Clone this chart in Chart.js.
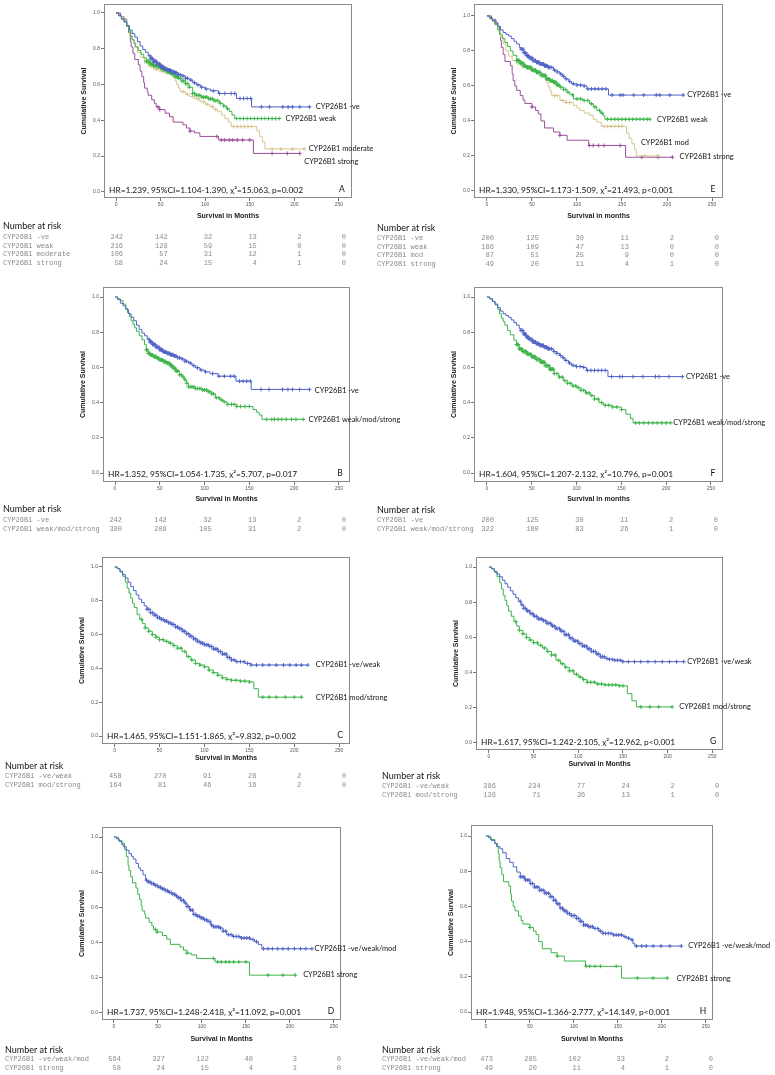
<!DOCTYPE html>
<html>
<head>
<meta charset="utf-8">
<script src="https://cdn.jsdelivr.net/npm/chart.js@4.4.0/dist/chart.umd.min.js"></script>
<style>
  body { margin: 0; background: #fff; width: 775px; height: 1075px; position: relative; overflow: hidden; }
  canvas { position: absolute; }
</style>
</head>
<body>
<canvas id="pA"></canvas><canvas id="pB"></canvas><canvas id="pC"></canvas><canvas id="pD"></canvas>
<canvas id="pE"></canvas><canvas id="pF"></canvas><canvas id="pG"></canvas><canvas id="pH"></canvas>
<script>
// axis ticks
const X_TICKS = [0, 50, 100, 150, 200, 250];
const Y_TICKS = [0, 0.2, 0.4, 0.6, 0.8, 1.0];

// ---- Kaplan-Meier steps [month, survival] and censor times (months) ----
// cohort 1 (A-D)
const negA = [[0,1],[3,0.985],[6,0.965],[9,0.95],[12,0.93],[15,0.905],[18,0.885],[21,0.865],[24,0.84],[27,0.815],[30,0.795],[33,0.78],[36,0.76],[39,0.745],[42,0.73],[46,0.715],[50,0.70],[54,0.688],[58,0.68],[62,0.672],[66,0.665],[70,0.655],[74,0.648],[78,0.635],[82,0.625],[86,0.61],[90,0.598],[95,0.585],[100,0.575],[106,0.565],[115,0.55],[135,0.522],[152,0.475],[217,0.475]];
const negCensA = [38,39,40,41,42,43,44,45,46,47,48,49,50,51,52,53,54,55,56,57,58,59,60,61,62,63,64,65,66,67,68,70,72,75,78,80,84,88,92,96,101,109,116,122,129,133,139,143,147,151,163,172,187,193,198,206,217];
const weakA = [[0,1],[3,0.985],[6,0.97],[9,0.95],[12,0.925],[14,0.9],[16,0.87],[18,0.85],[20,0.83],[22,0.81],[25,0.79],[28,0.77],[31,0.75],[34,0.73],[38,0.715],[42,0.705],[46,0.70],[50,0.69],[54,0.68],[58,0.67],[62,0.66],[66,0.645],[70,0.635],[74,0.62],[78,0.605],[82,0.585],[86,0.55],[90,0.54],[96,0.53],[104,0.52],[110,0.51],[116,0.495],[120,0.48],[124,0.465],[127,0.45],[130,0.43],[133,0.41],[183,0.41]];
const weakCensA = [34,35,36,37,38,39,40,41,42,43,44,45,46,47,48,49,50,51,52,53,54,55,56,57,58,59,60,61,62,63,64,65,66,67,68,69,70,72,74,76,78,80,82,86,88,90,92,94,96,98,100,102,104,106,108,110,112,114,117,121,125,135,139,143,147,151,155,159,163,167,171,175,179,183];
const modA = [[0,1],[4,0.98],[8,0.955],[12,0.925],[15,0.89],[18,0.85],[21,0.81],[24,0.78],[28,0.75],[32,0.72],[36,0.70],[42,0.685],[48,0.675],[54,0.665],[60,0.655],[64,0.64],[66,0.62],[68,0.60],[70,0.58],[72,0.56],[78,0.545],[83,0.533],[88,0.52],[94,0.505],[100,0.49],[105,0.477],[110,0.46],[114,0.45],[118,0.43],[122,0.41],[126,0.39],[129,0.365],[154,0.365],[158,0.34],[161,0.31],[164,0.28],[167,0.24],[211,0.24]];
const modCensA = [40,45,52,58,75,80,86,92,98,102,108,112,132,136,140,144,148,152,175,185,198,211];
const strongA = [[0,1],[5,0.98],[9,0.965],[12,0.93],[14,0.89],[16,0.84],[17,0.81],[19,0.775],[21,0.74],[25,0.71],[27,0.675],[29,0.645],[31,0.61],[32,0.58],[35,0.56],[36,0.54],[40,0.515],[43,0.495],[45,0.475],[49,0.46],[55,0.44],[60,0.42],[64,0.39],[75,0.375],[79,0.357],[83,0.34],[88,0.33],[94,0.31],[115,0.29],[154,0.215],[206,0.215]];
const strongCensA = [47,49,83,113,118,122,127,131,136,142,150,175,192,206];
const wmsB = [[0,1],[3,0.99],[6,0.98],[9,0.96],[12,0.935],[14,0.91],[16,0.89],[18,0.865],[20,0.845],[22,0.825],[24,0.805],[27,0.78],[30,0.757],[33,0.73],[35,0.70],[37,0.68],[40,0.67],[43,0.662],[47,0.652],[50,0.643],[54,0.633],[58,0.624],[62,0.61],[65,0.596],[68,0.58],[72,0.558],[75,0.545],[78,0.53],[80,0.51],[82,0.49],[89,0.48],[98,0.472],[104,0.462],[108,0.45],[112,0.428],[117,0.415],[121,0.405],[125,0.39],[136,0.378],[154,0.36],[158,0.345],[161,0.33],[164,0.305],[210,0.305]];
const wmsCensB = [35,36,37,38,39,40,41,42,43,44,45,46,47,48,49,50,51,52,53,54,55,56,57,58,59,60,61,62,63,64,65,66,67,68,69,70,72,74,76,78,80,82,84,86,88,90,92,94,96,98,100,102,104,106,108,110,113,116,119,122,126,130,133,136,140,145,150,169,175,178,182,186,191,197,202,210];
const nwC = [[0,1],[3,0.99],[6,0.975],[9,0.955],[12,0.935],[15,0.91],[18,0.885],[21,0.86],[24,0.835],[27,0.81],[30,0.79],[33,0.77],[36,0.75],[40,0.73],[44,0.715],[48,0.70],[52,0.69],[56,0.68],[60,0.67],[64,0.66],[68,0.645],[72,0.635],[76,0.62],[80,0.605],[84,0.59],[88,0.575],[92,0.56],[96,0.55],[100,0.54],[105,0.53],[110,0.515],[115,0.50],[120,0.485],[125,0.465],[130,0.45],[135,0.44],[145,0.43],[152,0.42],[215,0.42]];
const nwCensC = [36,38,40,42,44,46,48,50,52,54,56,58,60,62,64,66,68,70,72,74,76,78,80,82,84,86,88,90,92,94,96,98,100,102,104,106,108,110,112,114,116,118,120,122,124,126,128,130,133,136,140,144,148,152,158,165,172,180,188,195,202,208,215];
const msC = [[0,1],[3,0.99],[6,0.97],[9,0.945],[12,0.91],[14,0.875],[16,0.845],[18,0.815],[20,0.785],[22,0.76],[25,0.72],[28,0.69],[31,0.665],[34,0.64],[38,0.62],[42,0.60],[46,0.585],[50,0.57],[55,0.56],[60,0.55],[65,0.535],[70,0.52],[75,0.50],[80,0.47],[85,0.45],[90,0.43],[95,0.42],[100,0.41],[105,0.39],[110,0.375],[115,0.36],[120,0.345],[125,0.335],[130,0.33],[140,0.325],[150,0.32],[155,0.28],[160,0.23],[208,0.23]];
const msCensC = [30,34,38,42,46,50,54,58,62,66,70,74,78,82,86,90,95,100,105,110,115,120,125,130,135,140,145,150,165,172,180,190,200,208];
const nwmD = [[0,1],[3,0.99],[6,0.975],[9,0.955],[11,0.945],[14,0.925],[17,0.905],[20,0.89],[22,0.875],[25,0.85],[28,0.825],[30,0.81],[33,0.785],[36,0.755],[38,0.745],[42,0.735],[46,0.725],[50,0.715],[54,0.705],[58,0.695],[62,0.685],[66,0.675],[70,0.665],[73,0.655],[76,0.64],[80,0.625],[83,0.605],[86,0.585],[90,0.56],[94,0.55],[98,0.54],[102,0.53],[106,0.52],[110,0.50],[113,0.49],[120,0.483],[124,0.465],[128,0.445],[135,0.435],[143,0.426],[155,0.417],[160,0.405],[164,0.39],[168,0.365],[225,0.365]];
const nwmCensD = [37,39,41,43,45,47,49,51,53,55,57,59,61,63,65,67,69,71,73,75,77,79,81,83,85,87,89,91,93,95,97,99,101,103,105,107,109,111,113,115,117,119,121,124,127,130,133,136,139,142,145,148,151,154,158,162,170,175,180,186,192,198,205,212,218,225];

// cohort 2 (E-H)
const negE = [[0,1],[3,0.99],[6,0.975],[9,0.96],[12,0.94],[15,0.92],[18,0.905],[21,0.895],[24,0.885],[27,0.87],[30,0.855],[33,0.84],[36,0.82],[38,0.81],[41,0.79],[44,0.773],[47,0.76],[51,0.745],[55,0.735],[59,0.725],[64,0.715],[68,0.706],[74,0.69],[78,0.68],[81,0.668],[84,0.655],[87,0.64],[91,0.625],[94,0.612],[100,0.605],[107,0.60],[111,0.583],[135,0.548],[218,0.548]];
const negCensE = [38,39,40,41,42,43,44,45,46,47,48,49,50,51,52,53,54,55,56,57,58,59,60,61,62,63,64,65,66,67,68,69,70,72,75,78,82,85,88,92,96,100,104,108,112,116,120,124,128,132,139,148,151,163,174,188,192,203,218];
const weakE = [[0,1],[3,0.985],[6,0.97],[9,0.95],[12,0.92],[14,0.895],[17,0.87],[20,0.848],[23,0.825],[26,0.80],[29,0.775],[33,0.745],[37,0.73],[41,0.715],[44,0.706],[50,0.69],[55,0.678],[60,0.66],[66,0.64],[70,0.63],[74,0.62],[78,0.605],[81,0.593],[85,0.58],[89,0.564],[92,0.55],[96,0.526],[107,0.517],[114,0.498],[118,0.48],[122,0.46],[126,0.445],[129,0.43],[131,0.41],[181,0.41]];
const weakCensE = [33,34,35,36,37,38,39,40,41,42,43,44,45,46,47,48,49,50,51,52,53,54,55,56,57,58,59,60,61,62,63,64,65,66,67,68,69,70,71,72,73,74,75,76,77,78,79,80,82,85,87,90,95,100,104,108,112,116,120,125,128,134,138,142,146,150,154,158,162,166,170,174,178,181];
const modE = [[0,1],[4,0.98],[8,0.955],[12,0.92],[15,0.88],[18,0.84],[21,0.80],[24,0.77],[28,0.745],[33,0.725],[38,0.71],[44,0.697],[50,0.685],[56,0.67],[63,0.65],[66,0.62],[68,0.593],[70,0.57],[72,0.545],[81,0.517],[88,0.505],[96,0.489],[100,0.475],[103,0.46],[108,0.445],[114,0.432],[118,0.41],[122,0.394],[127,0.369],[155,0.33],[158,0.30],[161,0.27],[164,0.235],[166,0.20],[190,0.20]];
const modCensE = [40,48,75,78,84,88,92,130,134,138,142,146,150,175,190];
const strongE = [[0,1],[5,0.98],[10,0.96],[12,0.94],[14,0.90],[15,0.86],[16,0.82],[18,0.78],[20,0.74],[26,0.716],[28,0.67],[29,0.63],[31,0.60],[33,0.575],[37,0.545],[40,0.52],[42,0.50],[50,0.48],[54,0.46],[57,0.44],[60,0.40],[64,0.36],[74,0.337],[81,0.318],[89,0.29],[113,0.26],[154,0.193],[206,0.193]];
const strongCensE = [50,81,114,118,124,130,148,172,190,206];
const wmsF = [[0,1],[3,0.99],[6,0.975],[9,0.955],[12,0.93],[14,0.905],[16,0.88],[18,0.86],[20,0.84],[23,0.81],[26,0.785],[30,0.755],[33,0.73],[36,0.705],[40,0.69],[45,0.675],[50,0.66],[55,0.645],[60,0.63],[65,0.61],[70,0.59],[75,0.565],[80,0.545],[85,0.525],[90,0.51],[95,0.495],[100,0.485],[105,0.47],[110,0.455],[115,0.44],[120,0.42],[125,0.40],[130,0.385],[140,0.375],[150,0.36],[155,0.335],[160,0.31],[163,0.285],[205,0.285]];
const wmsCensF = [33,34,35,36,37,38,39,40,41,42,43,44,45,46,47,48,49,50,51,52,53,54,55,56,57,58,59,60,61,62,63,64,65,66,67,68,69,70,71,72,73,74,75,78,81,84,87,90,93,96,99,102,105,108,111,114,117,120,124,128,132,136,140,145,150,166,170,175,180,185,190,195,200,205];
const nwG = [[0,1],[3,0.99],[6,0.975],[9,0.96],[12,0.945],[15,0.925],[18,0.905],[21,0.885],[24,0.865],[27,0.845],[30,0.825],[33,0.805],[36,0.785],[39,0.765],[42,0.75],[46,0.735],[50,0.72],[55,0.705],[60,0.695],[65,0.68],[70,0.665],[75,0.65],[80,0.635],[85,0.615],[90,0.595],[95,0.58],[100,0.565],[105,0.55],[110,0.535],[115,0.52],[120,0.505],[125,0.49],[130,0.48],[135,0.475],[140,0.47],[150,0.462],[218,0.462]];
const nwCensG = [35,37,39,41,43,45,47,49,51,53,55,57,59,61,63,65,67,69,71,73,75,77,79,81,83,85,87,89,91,93,95,97,99,101,103,105,107,109,111,113,115,117,119,121,123,125,127,129,132,135,138,141,144,147,150,156,163,170,178,186,194,202,210,218];
const msG = [[0,1],[3,0.99],[6,0.97],[9,0.945],[12,0.91],[14,0.875],[16,0.84],[18,0.81],[20,0.78],[22,0.75],[25,0.72],[28,0.69],[31,0.665],[34,0.64],[38,0.62],[42,0.60],[46,0.585],[50,0.57],[55,0.555],[60,0.54],[65,0.52],[70,0.50],[75,0.47],[80,0.45],[85,0.43],[90,0.41],[95,0.39],[100,0.375],[105,0.36],[110,0.345],[120,0.335],[130,0.33],[145,0.325],[155,0.28],[160,0.24],[165,0.205],[205,0.205]];
const msCensG = [30,34,38,42,46,50,54,58,62,66,70,74,78,82,86,90,94,98,102,106,110,114,118,122,126,130,134,138,142,146,150,170,180,190,205];
const nwmH = [[0,1],[3,0.99],[6,0.975],[10,0.957],[13,0.94],[16,0.928],[19,0.905],[23,0.872],[27,0.85],[31,0.825],[35,0.795],[39,0.768],[44,0.75],[50,0.73],[55,0.71],[61,0.692],[67,0.675],[73,0.655],[77,0.635],[80,0.615],[84,0.59],[88,0.575],[92,0.56],[97,0.548],[103,0.532],[107,0.515],[111,0.494],[116,0.485],[122,0.475],[128,0.46],[133,0.447],[145,0.438],[156,0.428],[160,0.42],[164,0.41],[167,0.39],[169,0.375],[222,0.375]];
const nwmCensH = [39,41,43,45,47,49,51,53,55,57,59,61,63,65,67,69,71,73,75,77,79,81,83,85,87,89,91,93,95,97,99,101,103,105,107,109,111,113,115,117,119,121,124,127,130,133,136,139,142,145,148,151,154,158,162,166,171,177,182,190,199,209,222];

// ---- numbers at risk (at 0, 50, 100, 150, 200, 250 months) ----
const groupsA = ['CYP26B1 -ve', 'CYP26B1 weak', 'CYP26B1 moderate', 'CYP26B1 strong'];
const riskA = [[242,142,32,13,2,0],[216,128,59,15,0,0],[106,57,31,12,1,0],[58,24,15,4,1,0]];
const groupsB = ['CYP26B1 -ve', 'CYP26B1 weak/mod/strong'];
const riskB = [[242,142,32,13,2,0],[380,209,105,31,2,0]];
const groupsC = ['CYP26B1 -ve/weak', 'CYP26B1 mod/strong'];
const riskC = [[458,270,91,28,2,0],[164,81,46,16,2,0]];
const groupsD = ['CYP26B1 -ve/weak/mod', 'CYP26B1 strong'];
const riskD = [[564,327,122,40,3,0],[58,24,15,4,1,0]];
const groupsE = ['CYP26B1 -ve', 'CYP26B1 weak', 'CYP26B1 mod', 'CYP26B1 strong'];
const riskE = [[200,125,30,11,2,0],[186,109,47,13,0,0],[87,51,25,9,0,0],[49,20,11,4,1,0]];
const groupsF = ['CYP26B1 -ve', 'CYP26B1 weak/mod/strong'];
const riskF = [[200,125,30,11,2,0],[322,180,83,26,1,0]];
const groupsG = ['CYP26B1 -ve/weak', 'CYP26B1 mod/strong'];
const riskG = [[386,234,77,24,2,0],[136,71,36,13,1,0]];
const groupsH = ['CYP26B1 -ve/weak/mod', 'CYP26B1 strong'];
const riskH = [[473,285,102,33,2,0],[49,20,11,4,1,0]];

const COLORS = ['#5063c6', '#3db54a', '#d7c58e', '#9b4f9b'];
const Y_AXIS_W = 26;

// panel layout: canvas rect, plot box (page px), axis ranges, label anchors, table offsets
const panels = [
  { id: 'pA', letter: 'A', cx: 0, cy: 0, cw: 400, ch: 278, box: [104, 4, 352, 198], xr: [-13.5, 264.6], yr: [-0.034, 1.05], xh: 24, tab: [28, 39],
    curves: [[negA, negCensA], [weakA, weakCensA], [modA, modCensA], [strongA, strongCensA]],
    labels: [[224, 0.477], [190, 0.41], [216, 0.24], [211, 0.169]], names: groupsA, risk: riskA, tableX: 3,
    stat: 'HR=1.239, 95%CI=1.104-1.390, \u03c7\u00b2=15.063, p=0.002', xTitle: 'Survival in Months' },
  { id: 'pB', letter: 'B', cx: 0, cy: 280, cw: 400, ch: 262, box: [103, 287, 350, 482], xr: [-13.4, 262.3], yr: [-0.051, 1.057], xh: 23, tab: [27, 38],
    curves: [[negA, negCensA], [wmsB, wmsCensB]],
    labels: [[223, 0.47], [216, 0.305]], names: groupsB, risk: riskB, tableX: 3,
    stat: 'HR=1.352, 95%CI=1.054-1.735, \u03c7\u00b2=5.707, p=0.017', xTitle: 'Survival in Months' },
  { id: 'pC', letter: 'C', cx: 0, cy: 545, cw: 400, ch: 270, box: [102, 557, 350, 744], xr: [-14, 262], yr: [-0.047, 1.059], xh: 20, tab: [22, 32],
    curves: [[nwC, nwCensC], [msC, msCensC]],
    labels: [[224, 0.42], [224, 0.23]], names: groupsC, risk: riskC, tableX: 5,
    stat: 'HR=1.465, 95%CI=1.151-1.865, \u03c7\u00b2=9.832, p=0.002', xTitle: 'Survival in Months' },
  { id: 'pD', letter: 'D', cx: 0, cy: 815, cw: 400, ch: 260, box: [102, 827, 341, 1020], xr: [-13.6, 258], yr: [-0.04, 1.057], xh: 25, tab: [30, 39],
    curves: [[nwmD, nwmCensD], [strongA, strongCensA]],
    labels: [[228, 0.365], [215, 0.218]], names: groupsD, risk: riskD, tableX: 5,
    stat: 'HR=1.737, 95%CI=1.248-2.418, \u03c7\u00b2=11.092, p=0.001', xTitle: 'Survival in Months' },
  { id: 'pE', letter: 'E', cx: 368, cy: 0, cw: 407, ch: 278, box: [474, 3, 723, 198], xr: [-14.4, 262.2], yr: [-0.04, 1.068], xh: 24, tab: [30, 40],
    curves: [[negE, negCensE], [weakE, weakCensE], [modE, modCensE], [strongE, strongCensE]],
    labels: [[222.6, 0.549], [189, 0.41], [171, 0.275], [214, 0.195]], names: groupsE, risk: riskE, tableX: 377,
    stat: 'HR=1.330, 95%CI=1.173-1.509, \u03c7\u00b2=21.493, p<0.001', xTitle: 'Survival in months' },
  { id: 'pF', letter: 'F', cx: 368, cy: 280, cw: 407, ch: 262, box: [474, 287, 723, 482], xr: [-14.5, 263.4], yr: [-0.051, 1.057], xh: 23, tab: [28, 38],
    curves: [[negE, negCensE], [wmsF, wmsCensF]],
    labels: [[222, 0.545], [208, 0.285]], names: groupsF, risk: riskF, tableX: 377,
    stat: 'HR=1.604, 95%CI=1.207-2.132, \u03c7\u00b2=10.796, p=0.001', xTitle: 'Survival in months' },
  { id: 'pG', letter: 'G', cx: 368, cy: 545, cw: 407, ch: 270, box: [476, 557, 723, 750], xr: [-14.5, 262], yr: [-0.04, 1.057], xh: 20, tab: [26, 36],
    curves: [[nwG, nwCensG], [msG, msCensG]],
    labels: [[222, 0.46], [213, 0.205]], names: groupsG, risk: riskG, tableX: 382,
    stat: 'HR=1.617, 95%CI=1.242-2.105, \u03c7\u00b2=12.962, p<0.001', xTitle: 'Survival in Months' },
  { id: 'pH', letter: 'H', cx: 368, cy: 815, cw: 407, ch: 260, box: [471, 825, 713, 1020], xr: [-17, 258], yr: [-0.045, 1.0625], xh: 25, tab: [30, 39],
    curves: [[nwmH, nwmCensH], [strongE, strongCensE]],
    labels: [[230, 0.375], [216.7, 0.19]], names: groupsH, risk: riskH, tableX: 382,
    stat: 'HR=1.948, 95%CI=1.366-2.777, \u03c7\u00b2=14.149, p<0.001', xTitle: 'Survival in Months' }
];

// survival value of a step curve at time t
function survAt(steps, t) {
  let s = steps[0][1];
  for (const [x, y] of steps) { if (x <= t) s = y; else break; }
  return s;
}

const panelText = {
  id: 'panelText',
  afterDraw(chart, args, o) {
    const { ctx, chartArea: a, scales: { x, y } } = chart;
    ctx.save();
    // frame
    ctx.strokeStyle = '#8a8a8a';
    ctx.lineWidth = 1;
    ctx.strokeRect(Math.round(a.left) + 0.5, Math.round(a.top) + 0.5, Math.round(a.right - a.left) - 1, Math.round(a.bottom - a.top) - 1);
    // curve labels
    ctx.fillStyle = '#111';
    ctx.font = '7.4px Lato, "Liberation Sans", sans-serif';
    ctx.textBaseline = 'middle';
    ctx.textAlign = 'left';
    o.labels.forEach((p, i) => ctx.fillText(o.names[i], x.getPixelForValue(p[0]), y.getPixelForValue(p[1])));
    // statistics + panel letter
    ctx.font = '8.4px Lato, "Liberation Sans", sans-serif';
    ctx.fillText(o.stat, a.left + 5, a.bottom - 8);
    ctx.font = '8.5px Lato, "Liberation Sans", sans-serif';
    ctx.textAlign = 'center';
    ctx.fillText(o.letter, a.right - 10, a.bottom - 9);
    // number at risk table
    const tx = o.tableX - o.cx;
    ctx.textAlign = 'left';
    ctx.font = '9px Lato, "Liberation Sans", sans-serif';
    ctx.fillText('Number at risk', tx, a.bottom + o.tab[0]);
    ctx.font = '7px "Liberation Mono", monospace';
    ctx.fillStyle = '#8a8a8a';
    o.risk.forEach((row, i) => {
      const ry = a.bottom + o.tab[1] + 8.8 * i;
      ctx.textAlign = 'left';
      ctx.fillText(o.names[i], tx, ry);
      ctx.textAlign = 'right';
      row.forEach((n, j) => ctx.fillText(String(n), x.getPixelForValue(X_TICKS[j]) + 7, ry));
    });
    ctx.restore();
  }
};

panels.forEach(p => {
  const cv = document.getElementById(p.id);
  cv.width = p.cw; cv.height = p.ch;
  cv.style.left = p.cx + 'px'; cv.style.top = p.cy + 'px';
  const [L, T, R, B] = p.box;
  const datasets = [];
  p.curves.forEach(([steps, cens], i) => {
    datasets.push({
      data: steps.map(([t, s]) => ({ x: t, y: s })),
      showLine: true, stepped: true, borderColor: COLORS[i], borderWidth: 1, pointRadius: 0
    });
    datasets.push({
      data: cens.map(t => ({ x: t, y: survAt(steps, t) })),
      showLine: false, pointStyle: 'cross', pointRadius: 2, borderColor: COLORS[i], borderWidth: 1
    });
  });
  const tickFont = { size: 5, family: '"Liberation Sans", sans-serif' };
  const titleFont = { size: 7, weight: 'bold', family: '"Liberation Sans", sans-serif' };
  new Chart(cv, {
    type: 'scatter',
    data: { datasets },
    options: {
      responsive: false, animation: false, devicePixelRatio: 1,
      layout: {
        autoPadding: false,
        padding: { left: L - p.cx - Y_AXIS_W, top: T - p.cy, right: p.cx + p.cw - R, bottom: p.cy + p.ch - B - p.xh }
      },
      plugins: {
        legend: { display: false }, tooltip: { enabled: false },
        panelText: { labels: p.labels, names: p.names, risk: p.risk, stat: p.stat, letter: p.letter, tableX: p.tableX, cx: p.cx, tab: p.tab }
      },
      scales: {
        x: {
          type: 'linear', min: p.xr[0], max: p.xr[1],
          afterBuildTicks: s => { s.ticks = X_TICKS.map(v => ({ value: v })); },
          afterFit: s => { s.height = p.xh; },
          ticks: { autoSkip: false, maxRotation: 0, padding: 1, color: '#555', font: tickFont, callback: v => v },
          grid: { drawOnChartArea: false, drawTicks: true, tickLength: 3, color: '#777' },
          border: { display: false },
          title: { display: true, text: p.xTitle, color: '#222', font: titleFont, padding: { top: 0, bottom: 2 } }
        },
        y: {
          type: 'linear', min: p.yr[0], max: p.yr[1],
          afterBuildTicks: s => { s.ticks = Y_TICKS.map(v => ({ value: v })); },
          afterFit: s => { s.width = Y_AXIS_W; },
          ticks: { autoSkip: false, padding: 1, color: '#555', font: tickFont, callback: v => v.toFixed(1) },
          grid: { drawOnChartArea: false, drawTicks: true, tickLength: 3, color: '#777' },
          border: { display: false },
          title: { display: true, text: 'Cumulative Survival', color: '#222', font: titleFont, padding: { top: 2, bottom: 0 } }
        }
      }
    },
    plugins: [panelText]
  });
});
</script>
</body>
</html>
